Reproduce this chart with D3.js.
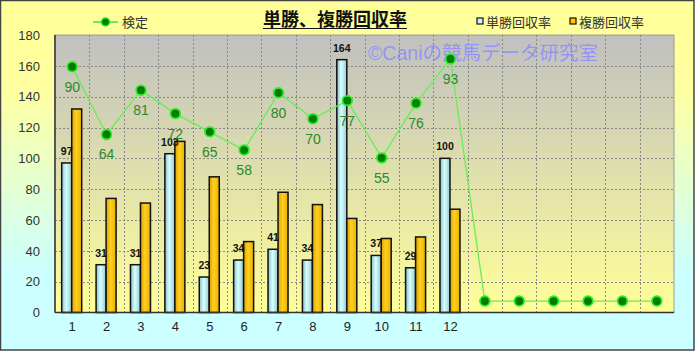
<!DOCTYPE html>
<html>
<head>
<meta charset="utf-8">
<script src="https://cdn.jsdelivr.net/npm/d3@7"></script>
<style>
  html, body { margin: 0; padding: 0; background: #fff; }
  svg { display: block; }
  text { font-family: "Liberation Sans", "Noto Sans CJK JP", sans-serif; }
</style>
</head>
<body>
<div id="chart"></div>
<script>
// data
var categories = ["1","2","3","4","5","6","7","8","9","10","11","12","","","","","",""];
var tanshou = [97, 31, 31, 103, 23, 34, 41, 34, 164, 37, 29, 100];   // 単勝回収率
var fukushou = [132, 74, 71, 111, 88, 46, 78, 70, 61, 48, 49, 67];  // 複勝回収率
var kentei = [90, 64, 81, 72, 65, 58, 80, 70, 77, 55, 76, 93, 0, 0, 0, 0, 0, 0]; // 検定
var yTicks = [0, 20, 40, 60, 80, 100, 120, 140, 160, 180];

var W = 695, H = 351;
var plot = { left: 55, right: 674, top: 35, bottom: 312.5 };
var jp = '"Noto Sans CJK JP", sans-serif';

var svg = d3.select("#chart").append("svg").attr("width", W).attr("height", H);
var defs = svg.append("defs");

// backgrounds
var bg = defs.append("linearGradient").attr("id", "bgGrad").attr("x1", 0).attr("y1", 0).attr("x2", 0).attr("y2", 1);
bg.append("stop").attr("offset", "0%").attr("stop-color", "#ffff99");
bg.append("stop").attr("offset", "25%").attr("stop-color", "#ffffa0");
bg.append("stop").attr("offset", "78%").attr("stop-color", "#ccffff");
bg.append("stop").attr("offset", "100%").attr("stop-color", "#ccffff");

var pg = defs.append("linearGradient").attr("id", "plotGrad").attr("x1", 0).attr("y1", 0).attr("x2", 0).attr("y2", 1);
pg.append("stop").attr("offset", "0%").attr("stop-color", "#c0c0c0");
pg.append("stop").attr("offset", "100%").attr("stop-color", "#ffff99");

var bl = defs.append("linearGradient").attr("id", "blueGrad");
bl.append("stop").attr("offset", "0%").attr("stop-color", "#88c0c8");
bl.append("stop").attr("offset", "45%").attr("stop-color", "#d8ffff");
bl.append("stop").attr("offset", "100%").attr("stop-color", "#90c8d0");

var or = defs.append("linearGradient").attr("id", "orangeGrad");
or.append("stop").attr("offset", "0%").attr("stop-color", "#e0a000");
or.append("stop").attr("offset", "45%").attr("stop-color", "#ffd020");
or.append("stop").attr("offset", "100%").attr("stop-color", "#e8b000");

svg.append("rect").attr("x", 0.5).attr("y", 0.5).attr("width", W - 1.5).attr("height", H - 1.5)
  .attr("fill", "url(#bgGrad)").attr("stroke", "#444").attr("stroke-width", 1.5);

svg.append("rect").attr("x", plot.left).attr("y", plot.top)
  .attr("width", plot.right - plot.left).attr("height", plot.bottom - plot.top)
  .attr("fill", "url(#plotGrad)").attr("stroke", "#999").attr("stroke-width", 1);

// scales
var x = d3.scaleBand().domain(d3.range(categories.length)).range([plot.left, plot.right]).padding(0);
var y = d3.scaleLinear().domain([0, 180]).range([plot.bottom, plot.top]);
var y2 = d3.scaleLinear().domain([-4.4, 102.2]).range([plot.bottom, plot.top]); // hidden secondary axis

// grid
var grid = svg.append("g").attr("stroke", "#888").attr("stroke-width", 1).attr("stroke-dasharray", "2,2");
grid.selectAll(".h").data(yTicks.filter(function (d) { return d > 0 && d < 180; })).enter().append("line")
  .attr("x1", plot.left).attr("x2", plot.right)
  .attr("y1", function (d) { return Math.round(y(d)) + 0.5; })
  .attr("y2", function (d) { return Math.round(y(d)) + 0.5; });
grid.selectAll(".v").data(d3.range(1, categories.length)).enter().append("line")
  .attr("y1", plot.top).attr("y2", plot.bottom)
  .attr("x1", function (i) { return Math.round(x(i)) + 0.5; })
  .attr("x2", function (i) { return Math.round(x(i)) + 0.5; });

// watermark
svg.append("text").attr("x", 368).attr("y", 60)
  .attr("font-family", jp).attr("font-size", 19.5).attr("fill", "#8c8cff").attr("fill-opacity", 0.85)
  .text("©Caniの競馬データ研究室");

// bars
var bw = 10;
var bars = svg.append("g");
bars.selectAll(".tan").data(tanshou).enter().append("rect")
  .attr("x", function (d, i) { return x(i) + x.bandwidth() / 2 - bw - 0.5; })
  .attr("y", function (d) { return y(d); })
  .attr("width", bw).attr("height", function (d) { return plot.bottom - y(d); })
  .attr("fill", "url(#blueGrad)").attr("stroke", "#111").attr("stroke-width", 1.5);
bars.selectAll(".fuku").data(fukushou).enter().append("rect")
  .attr("x", function (d, i) { return x(i) + x.bandwidth() / 2 - 0.5; })
  .attr("y", function (d) { return y(d); })
  .attr("width", bw).attr("height", function (d) { return plot.bottom - y(d); })
  .attr("fill", "url(#orangeGrad)").attr("stroke", "#111").attr("stroke-width", 1.5);

bars.selectAll(".tanLabel").data(tanshou).enter().append("text")
  .attr("x", function (d, i) { return x(i) + x.bandwidth() / 2 - bw / 2 - 0.5; })
  .attr("y", function (d) { return y(d) - 8; })
  .attr("text-anchor", "middle").attr("font-size", 10.5).attr("font-weight", "bold").attr("fill", "#111")
  .text(function (d) { return d; });

// axes lines
svg.append("line").attr("x1", plot.left).attr("x2", plot.left).attr("y1", plot.top).attr("y2", plot.bottom)
  .attr("stroke", "#333").attr("stroke-width", 1.5);
svg.append("line").attr("x1", plot.left).attr("x2", plot.right).attr("y1", plot.bottom).attr("y2", plot.bottom)
  .attr("stroke", "#333").attr("stroke-width", 1.5);

var yAxis = svg.append("g").attr("transform", "translate(" + plot.left + ",0)")
  .call(d3.axisLeft(y).tickValues(yTicks).tickSize(0).tickPadding(15));
yAxis.select(".domain").remove();
yAxis.selectAll("text").attr("font-size", 13).attr("fill", "#333").attr("font-family", "Liberation Sans, sans-serif");

var xAxis = svg.append("g").attr("transform", "translate(0," + plot.bottom + ")")
  .call(d3.axisBottom(x).tickFormat(function (i) { return categories[i]; }).tickSize(0).tickPadding(9));
xAxis.select(".domain").remove();
xAxis.selectAll("text").attr("font-size", 13).attr("fill", "#222").attr("font-family", "Liberation Sans, sans-serif");

// line 検定
var line = d3.line()
  .x(function (d, i) { return x(i) + x.bandwidth() / 2; })
  .y(function (d) { return y2(d); });
svg.append("path").datum(kentei).attr("d", line).attr("fill", "none")
  .attr("stroke", "#66ee55").attr("stroke-width", 1.3);
svg.selectAll(".pt").data(kentei).enter().append("circle")
  .attr("cx", function (d, i) { return x(i) + x.bandwidth() / 2; })
  .attr("cy", function (d) { return y2(d); })
  .attr("r", 4.8).attr("fill", "#007a00").attr("stroke", "#22ee22").attr("stroke-width", 1.8);
svg.selectAll(".ptLabel").data(kentei).enter().filter(function (d, i) { return categories[i] !== ""; })
  .append("text")
  .attr("x", function (d, i) { return x(i) + x.bandwidth() / 2; })
  .attr("y", function (d) { return y2(d) + 25; })
  .attr("text-anchor", "middle").attr("font-size", 14).attr("fill", "#2a8a2a")
  .text(function (d) { return d; });

// title
var title = svg.append("text").attr("x", 335).attr("y", 26).attr("text-anchor", "middle")
  .attr("font-family", jp).attr("font-size", 18).attr("font-weight", "bold").attr("fill", "#111")
  .text("単勝、複勝回収率");
var tb = title.node().getBBox();
svg.append("line").attr("x1", tb.x).attr("x2", tb.x + tb.width).attr("y1", 28.5).attr("y2", 28.5)
  .attr("stroke", "#111").attr("stroke-width", 1.2);

// legend
var lg = svg.append("g");
lg.append("line").attr("x1", 93).attr("x2", 118).attr("y1", 22).attr("y2", 22).attr("stroke", "#66ee55").attr("stroke-width", 2);
lg.append("circle").attr("cx", 105.5).attr("cy", 22).attr("r", 4).attr("fill", "#007a00").attr("stroke", "#22ee22").attr("stroke-width", 1.5);
lg.append("text").attr("x", 122).attr("y", 27).attr("font-family", jp).attr("font-size", 13).attr("fill", "#333").text("検定");

var legendItems = [
  { name: "単勝回収率", fill: "#c8f4ff", x: 477 },
  { name: "複勝回収率", fill: "#ffc800", x: 570 }
];
legendItems.forEach(function (it) {
  lg.append("rect").attr("x", it.x).attr("y", 18).attr("width", 6).attr("height", 6)
    .attr("fill", it.fill).attr("stroke", "#111").attr("stroke-width", 1.2);
  lg.append("text").attr("x", it.x + 9).attr("y", 27).attr("font-family", jp).attr("font-size", 13)
    .attr("fill", "#333").text(it.name);
});
</script>
</body>
</html>
